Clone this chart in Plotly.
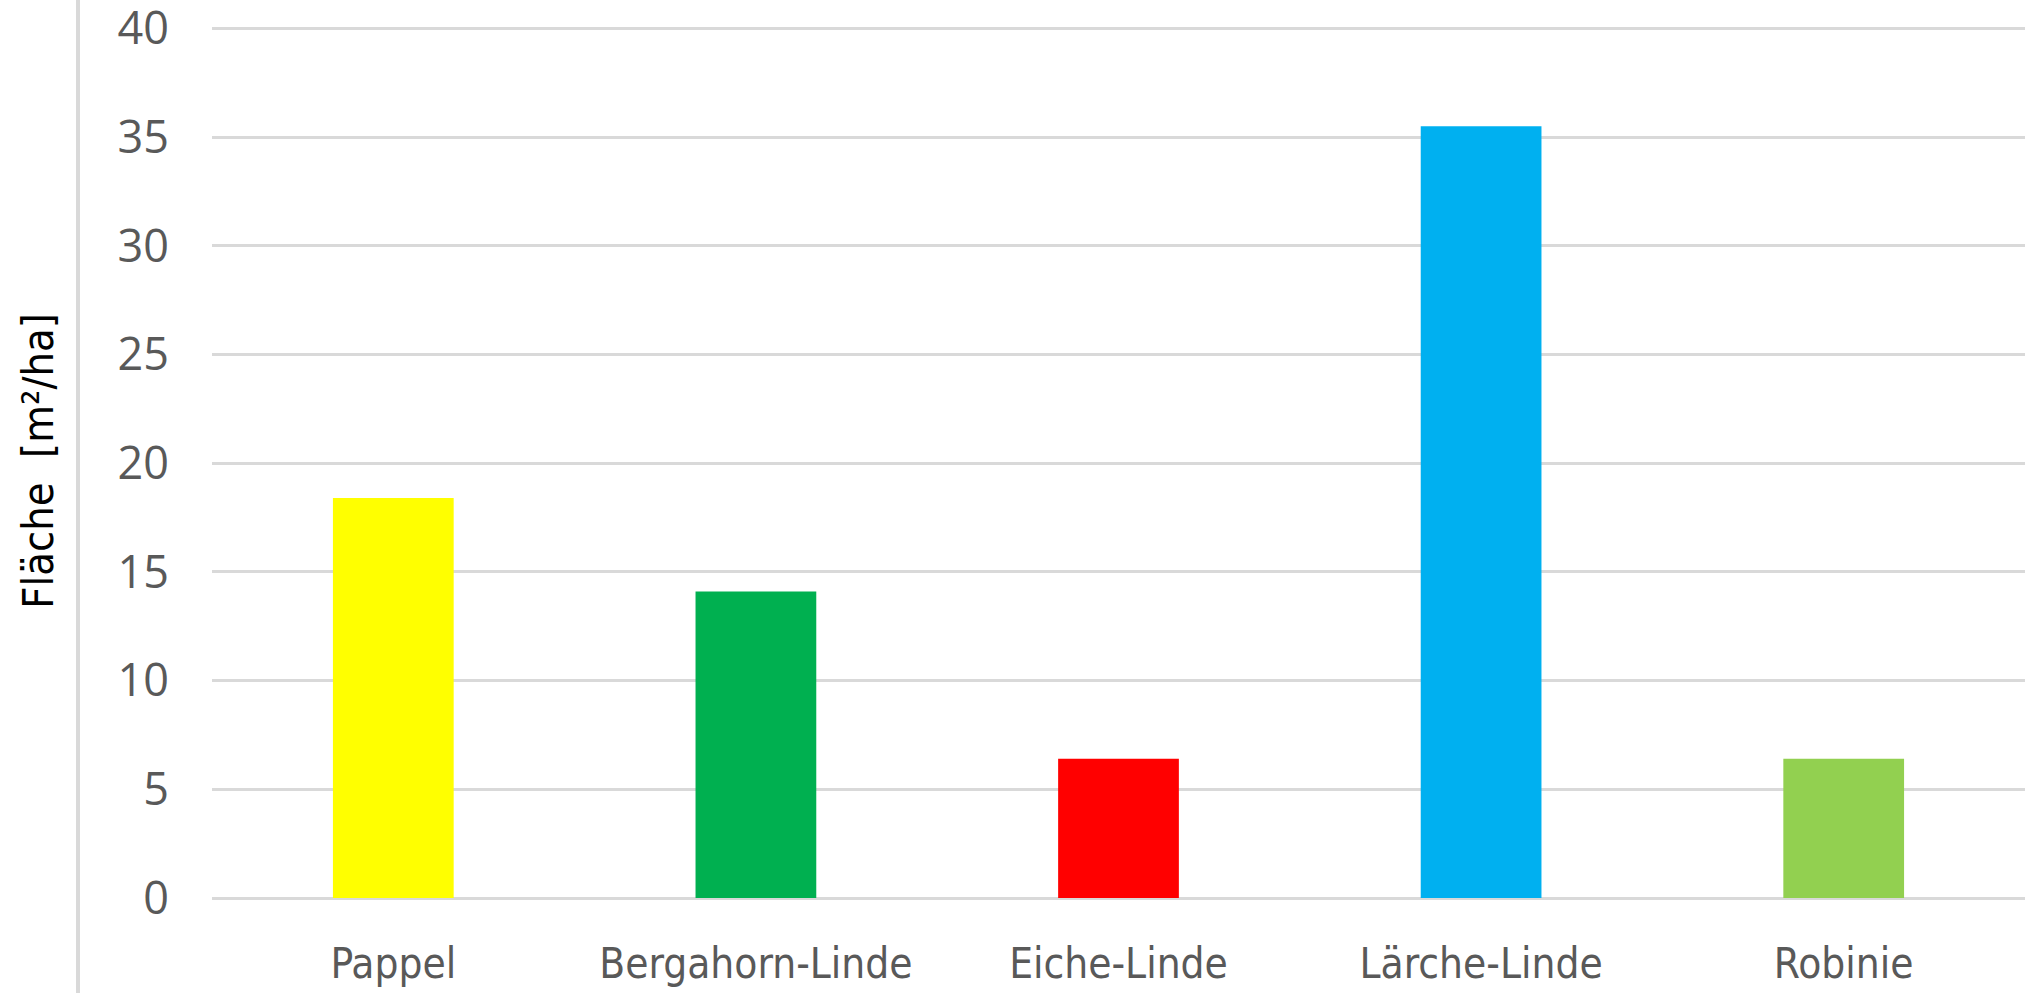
import plotly.graph_objects as go

categories = ["Pappel", "Bergahorn-Linde", "Eiche-Linde", "Lärche-Linde", "Robinie"]
values = [18.4, 14.1, 6.4, 35.5, 6.4]
colors = ["#FFFF00", "#00B050", "#FF0000", "#00B0F0", "#92D050"]
y_ticks = [0, 5, 10, 15, 20, 25, 30, 35, 40]
y_title = "Fläche  [m²/ha]"

W, H = 2029, 993
L, R, T, B = 212, 4, 24, 95
plot_w = W - L - R
plot_h = H - T - B

fig = go.Figure(go.Bar(
    x=categories, y=values, marker_color=colors, marker_line_width=0,
))

fig.update_layout(
    width=W, height=H,
    margin=dict(l=L, r=R, t=T, b=B, pad=0, autoexpand=False),
    paper_bgcolor="white", plot_bgcolor="white",
    bargap=0.667, showlegend=False,
    font=dict(family="Open Sans", color="#595959"),
)
fig.update_yaxes(
    range=[0, 40.2], tickvals=y_ticks, ticktext=[str(v) for v in y_ticks],
    showgrid=True, gridcolor="#d9d9d9", gridwidth=3,
    zeroline=True, zerolinecolor="#d9d9d9", zerolinewidth=3,
    showline=False, ticks="", ticklabelstandoff=42, ticklabeloverflow="allow",
    automargin=False,
    tickfont=dict(family="Open Sans", size=45, color="#595959"),
    title=dict(text=y_title, standoff=50,
               font=dict(family="DejaVu Sans Condensed", size=43, color="black")),
)
fig.update_xaxes(
    showgrid=False, showline=False, ticks="", ticklabelstandoff=37,
    automargin=False,
    tickfont=dict(family="DejaVu Sans Condensed", size=42, color="#595959"),
)
# gray border line at the left
xl = (78 - L) / plot_w
fig.add_shape(type="line", xref="paper", yref="paper",
              x0=xl, x1=xl, y0=-B / plot_h, y1=1 + T / plot_h,
              line=dict(color="#d9d9d9", width=4))

fig.write_html("out.html", config={"displayModeBar": False},
               post_script="document.body.style.margin='0';document.body.style.overflow='hidden';")
